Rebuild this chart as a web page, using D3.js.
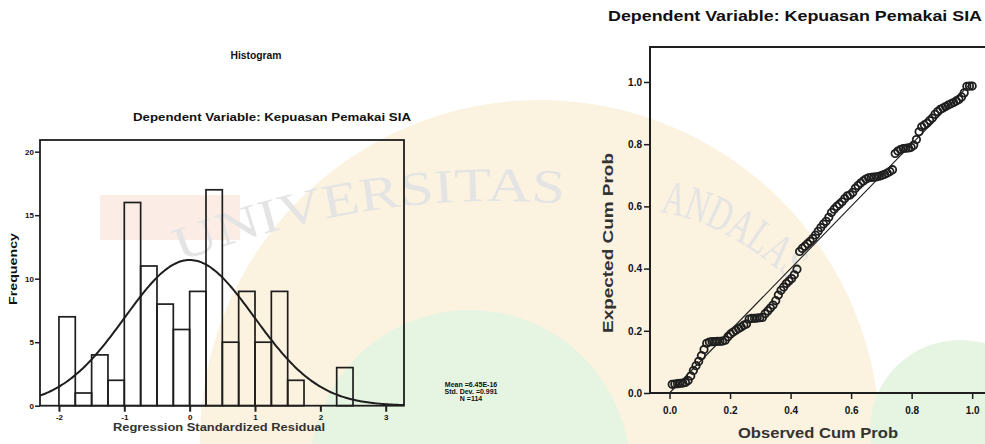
<!DOCTYPE html>
<html><head><meta charset="utf-8">
<script src="https://cdn.jsdelivr.net/npm/d3@7/dist/d3.min.js"></script>
<style>html,body{margin:0;padding:0;background:#fff}svg{display:block}text{font-family:"Liberation Sans",Arial,sans-serif;font-weight:bold;fill:#111}</style>
</head><body>
<svg id="c" width="985" height="444"></svg>
<script>
// ---- Histogram data ----
const binStarts = [-2,-1.75,-1.5,-1.25,-1,-0.75,-0.5,-0.25,0,0.25,0.5,0.75,1,1.25,1.5,1.75,2,2.25];
const binCounts = [7,1,4,2,16,11,8,6,9,17,5,9,5,9,2,0,0,3];
const binWidth = 0.25;
const histXTicks = [-2,-1,0,1,2,3];
const histYTicks = [0,5,10,15,20];
const statMean = 6.45e-16, statSD = 0.991, statN = 114;
const statLines = ["Mean =6.45E-16","Std. Dev. =0.991","N =114"];
// ---- P-P plot data ----
const ppObserved = [0.0088,0.0175,0.0263,0.0351,0.0439,0.0526,0.0614,0.0702,0.0789,0.0877,0.0965,0.1053,0.1140,0.1228,0.1316,0.1404,0.1491,0.1579,0.1667,0.1754,0.1842,0.1930,0.2018,0.2105,0.2193,0.2281,0.2368,0.2456,0.2544,0.2632,0.2719,0.2807,0.2895,0.2982,0.3070,0.3158,0.3246,0.3333,0.3421,0.3509,0.3596,0.3684,0.3772,0.3860,0.3947,0.4035,0.4123,0.4211,0.4298,0.4386,0.4474,0.4561,0.4649,0.4737,0.4825,0.4912,0.5000,0.5088,0.5175,0.5263,0.5351,0.5439,0.5526,0.5614,0.5702,0.5789,0.5877,0.5965,0.6053,0.6140,0.6228,0.6316,0.6404,0.6491,0.6579,0.6667,0.6754,0.6842,0.6930,0.7018,0.7105,0.7193,0.7281,0.7368,0.7456,0.7544,0.7632,0.7719,0.7807,0.7895,0.7982,0.8070,0.8158,0.8246,0.8333,0.8421,0.8509,0.8596,0.8684,0.8772,0.8860,0.8947,0.9035,0.9123,0.9211,0.9298,0.9386,0.9474,0.9561,0.9649,0.9737,0.9825,0.9912,1.0000];
const ppExpected = [0.028,0.029,0.030,0.031,0.032,0.034,0.040,0.055,0.072,0.088,0.102,0.120,0.140,0.160,0.164,0.165,0.165,0.166,0.166,0.167,0.170,0.181,0.190,0.196,0.202,0.207,0.212,0.218,0.222,0.238,0.240,0.240,0.241,0.242,0.243,0.255,0.264,0.273,0.283,0.297,0.315,0.330,0.341,0.352,0.360,0.368,0.380,0.398,0.455,0.465,0.472,0.480,0.488,0.497,0.508,0.520,0.532,0.543,0.552,0.565,0.580,0.591,0.600,0.607,0.615,0.625,0.634,0.637,0.645,0.658,0.667,0.675,0.682,0.688,0.692,0.693,0.694,0.695,0.697,0.700,0.703,0.707,0.712,0.718,0.770,0.778,0.783,0.786,0.787,0.788,0.790,0.797,0.815,0.840,0.856,0.862,0.867,0.876,0.884,0.896,0.905,0.912,0.916,0.921,0.926,0.930,0.934,0.939,0.944,0.952,0.965,0.986,0.987,0.987];
const ppTicks = [0,0.2,0.4,0.6,0.8,1.0];
const titleText = "Dependent Variable: Kepuasan Pemakai SIA";
const watermarkWords = ["UNIVERSITAS","ANDALAS"];

const svg = d3.select("#c");
const ink = "#1e1e1e";

// ---- faint watermark background ----
const wm = svg.append("g");
wm.append("circle").attr("cx",540).attr("cy",440).attr("r",340).attr("fill","#fcf2e0");
wm.append("rect").attr("x",100).attr("y",195).attr("width",140).attr("height",45).attr("fill","#fbede6");
wm.append("circle").attr("cx",470).attr("cy",470).attr("r",160).attr("fill","#e6f4e2");
wm.append("circle").attr("cx",960).attr("cy",430).attr("r",90).attr("fill","#e6f4e2");
wm.append("path").attr("id","wmArc1").attr("d","M180,262 Q380,185 578,205").attr("fill","none");
wm.append("path").attr("id","wmArc2").attr("d","M660,212 Q740,225 815,305").attr("fill","none");
[["#wmArc1",watermarkWords[0],392],["#wmArc2",watermarkWords[1],150]].forEach(([id,w,len])=>{
  wm.append("text").style("font-family","'Liberation Serif',serif").style("font-weight","normal")
    .style("font-size","48px").style("fill","#e4e4e4")
    .append("textPath").attr("href",id).attr("textLength",len).attr("lengthAdjust","spacingAndGlyphs").text(w);
});

// ---- Histogram ----
const hx = d3.scaleLinear().domain([-2.29,3.28]).range([40,404]);
const hy = d3.scaleLinear().domain([0,20.92]).range([405.7,140]);
const H = svg.append("g");
H.selectAll("rect.bar").data(binStarts.map((s,i)=>({s,c:binCounts[i]})).filter(d=>d.c>0))
  .join("rect").attr("class","bar")
  .attr("x",d=>hx(d.s)).attr("width",d=>hx(d.s+binWidth)-hx(d.s))
  .attr("y",d=>hy(d.c)).attr("height",d=>hy(0)-hy(d.c))
  .attr("fill","none").attr("stroke",ink).attr("stroke-width",1.7);
// normal curve from displayed statistics
const curveX = d3.range(0,201).map(i=>-2.29+i*(3.28+2.29)/200);
const dens = x=>statN*binWidth/(statSD*Math.sqrt(2*Math.PI))*Math.exp(-0.5*Math.pow((x-statMean)/statSD,2));
H.append("path").datum(curveX).attr("d",d3.line().x(d=>hx(d)).y(d=>hy(dens(d))).curve(d3.curveBasis))
  .attr("fill","none").attr("stroke",ink).attr("stroke-width",2);
// frame
H.append("rect").attr("x",40).attr("y",140).attr("width",364).attr("height",265.7)
  .attr("fill","none").attr("stroke",ink).attr("stroke-width",1.8);
H.append("g").attr("transform","translate(0,405.7)")
  .call(d3.axisBottom(hx).tickValues(histXTicks).tickSize(6).tickFormat(d=>d))
  .call(g=>{g.select(".domain").remove();g.selectAll("line").attr("stroke",ink).attr("stroke-width",2);
    g.selectAll("text").attr("dy",null).attr("y",14).style("font-size","8px").style("font-family","'Liberation Sans',Arial");});
H.append("g").attr("transform","translate(40,0)")
  .call(d3.axisLeft(hy).tickValues(histYTicks).tickSize(5).tickFormat(d=>d))
  .call(g=>{g.select(".domain").remove();g.selectAll("line").attr("stroke",ink).attr("stroke-width",1.5);
    g.selectAll("text").attr("x",-6).style("font-size","8px").style("font-family","'Liberation Sans',Arial");});
svg.append("text").attr("x",256).attr("y",59).attr("text-anchor","middle").style("font-size","10px").attr("textLength",51).attr("lengthAdjust","spacingAndGlyphs").text("Histogram");
svg.append("text").attr("x",272).attr("y",121).attr("text-anchor","middle").style("font-size","11px").attr("textLength",278).attr("lengthAdjust","spacingAndGlyphs").text(titleText);
svg.append("text").attr("x",219).attr("y",431).attr("text-anchor","middle").style("font-size","11px").attr("textLength",212).attr("lengthAdjust","spacingAndGlyphs").style("fill","#333").text("Regression Standardized Residual");
svg.append("text").attr("transform","translate(17,269) rotate(-90)").attr("text-anchor","middle").style("font-size","11px").attr("textLength",72).attr("lengthAdjust","spacingAndGlyphs").text("Frequency");
svg.append("g").selectAll("text").data(statLines).join("text")
  .attr("x",471).attr("y",(d,i)=>387+i*7).attr("text-anchor","middle").style("font-size","7px").text(d=>d);

// ---- P-P plot ----
const px = d3.scaleLinear().domain([-0.0645,1.0424]).range([650,985]);
const py = d3.scaleLinear().domain([0,1.1125]).range([393,47]);
const P = svg.append("g");
P.append("line").attr("x1",px(0)).attr("y1",py(0)).attr("x2",px(1)).attr("y2",py(1)).attr("stroke",ink).attr("stroke-width",1.1);
P.selectAll("circle").data(ppObserved.map((o,i)=>[o,ppExpected[i]])).join("circle")
  .attr("cx",d=>px(d[0])).attr("cy",d=>py(d[1])).attr("r",3.7)
  .attr("fill","none").attr("stroke",ink).attr("stroke-width",1.8);
P.append("path").attr("d",`M985,47H650V393H985`).attr("fill","none").attr("stroke",ink).attr("stroke-width",2);
P.append("g").attr("transform","translate(0,393)")
  .call(d3.axisBottom(px).tickValues(ppTicks).tickSize(6).tickFormat(d3.format(".1f")))
  .call(g=>{g.select(".domain").remove();g.selectAll("line").attr("stroke",ink).attr("stroke-width",1.5);
    g.selectAll("text").attr("dy",null).attr("y",21).style("font-size","10px").style("font-family","'Liberation Sans',Arial");});
P.append("g").attr("transform","translate(650,0)")
  .call(d3.axisLeft(py).tickValues(ppTicks).tickSize(6).tickFormat(d3.format(".1f")))
  .call(g=>{g.select(".domain").remove();g.selectAll("line").attr("stroke",ink).attr("stroke-width",1.5);
    g.selectAll("text").attr("x",-8).style("font-size","10px").style("font-family","'Liberation Sans',Arial");});
svg.append("text").attr("x",795).attr("y",21).attr("text-anchor","middle").style("font-size","15px").attr("textLength",374).attr("lengthAdjust","spacingAndGlyphs").text(titleText);
svg.append("text").attr("x",818).attr("y",438).attr("text-anchor","middle").style("font-size","15px").attr("textLength",160).attr("lengthAdjust","spacingAndGlyphs").style("fill","#333").text("Observed Cum Prob");
svg.append("text").attr("transform","translate(613,243) rotate(-90)").attr("text-anchor","middle").style("font-size","14px").attr("textLength",180).attr("lengthAdjust","spacingAndGlyphs").style("fill","#333").text("Expected Cum Prob");
</script>
</body></html>
